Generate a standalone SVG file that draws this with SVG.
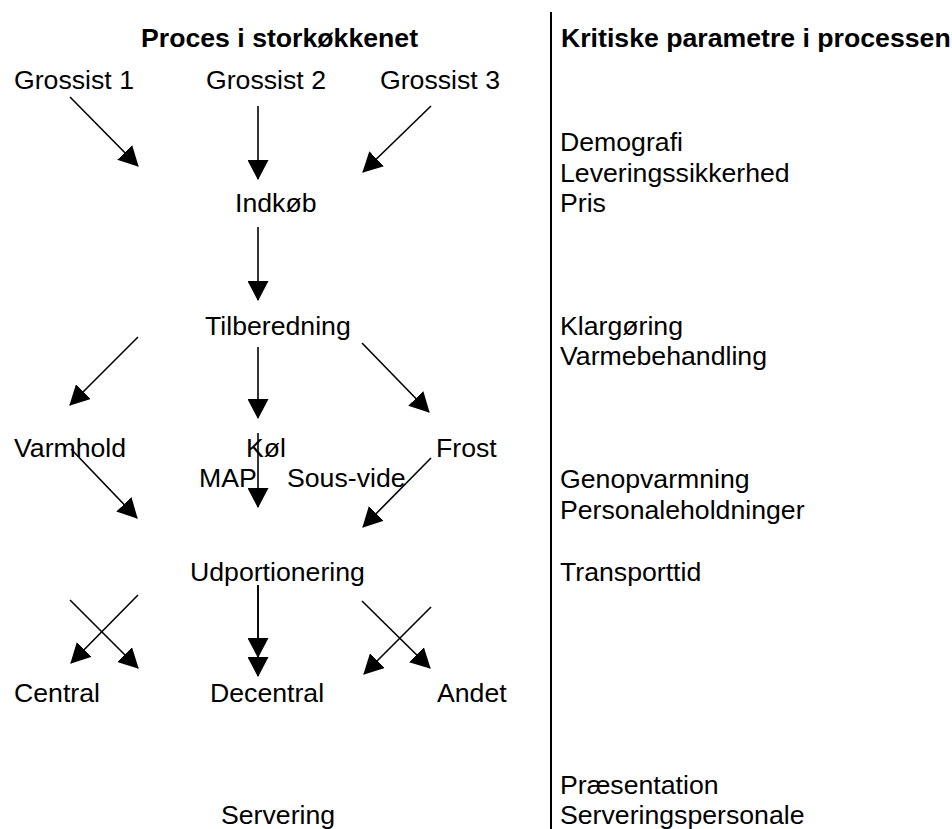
<svg xmlns="http://www.w3.org/2000/svg" width="952" height="829" viewBox="0 0 952 829">
<style>
text{font-family:"Liberation Sans",Arial,sans-serif;font-size:26.67px;fill:#000}
.h{font-weight:bold}
.c{stroke:#000;stroke-width:1.6;fill:none;marker-end:url(#ah)}
</style>
<defs>
<marker id="ah" viewBox="0 0 20 21" refX="19" refY="10.5" markerWidth="20" markerHeight="21" markerUnits="userSpaceOnUse" orient="auto">
<path d="M0,0 L20,10.5 L0,21 z" fill="#000"/>
</marker>
</defs>
<rect width="952" height="829" fill="#fff"/>
<line x1="551" y1="12" x2="551" y2="829" stroke="#000" stroke-width="2"/>
<g id="headings">
<text class="h" x="141" y="47">Proces i storkøkkenet</text>
<text class="h" x="561" y="47">Kritiske parametre i processen</text>
</g>
<g id="grossist1"><text x="14" y="89">Grossist 1</text></g>
<g id="grossist2"><text x="206" y="89">Grossist 2</text></g>
<g id="grossist3"><text x="380" y="89">Grossist 3</text></g>
<g id="indkob"><text x="235" y="212">Indkøb</text></g>
<g id="tilberedning"><text x="205" y="335">Tilberedning</text></g>
<g id="varmhold"><text x="14" y="457">Varmhold</text></g>
<g id="kol"><text x="246" y="457">Køl</text></g>
<g id="frost"><text x="436" y="457">Frost</text></g>
<g id="map"><text x="199" y="487">MAP</text></g>
<g id="sousvide"><text x="287" y="487">Sous-vide</text></g>
<g id="udportionering"><text x="190" y="581">Udportionering</text></g>
<g id="central"><text x="14" y="702">Central</text></g>
<g id="decentral"><text x="210" y="702">Decentral</text></g>
<g id="andet"><text x="437" y="702">Andet</text></g>
<g id="servering"><text x="221" y="824">Servering</text></g>
<g id="parametre">
<text x="560" y="151">Demografi</text>
<text x="560" y="181.5">Leveringssikkerhed</text>
<text x="560" y="212">Pris</text>
<text x="560" y="335">Klargøring</text>
<text x="560" y="365">Varmebehandling</text>
<text x="560" y="488">Genopvarmning</text>
<text x="560" y="519">Personaleholdninger</text>
<text x="560" y="581">Transporttid</text>
<text x="560" y="794">Præsentation</text>
<text x="560" y="824">Serveringspersonale</text>
</g>
<g id="connectors">
<line class="c" x1="70" y1="97" x2="138" y2="166"/>
<line class="c" x1="258" y1="106" x2="258" y2="179"/>
<line class="c" x1="431" y1="106" x2="363" y2="172"/>
<line class="c" x1="258" y1="227" x2="258" y2="300"/>
<line class="c" x1="138" y1="337" x2="70" y2="405"/>
<line class="c" x1="258" y1="347" x2="258" y2="418"/>
<line class="c" x1="362" y1="343" x2="429" y2="412"/>
<line class="c" x1="71" y1="449" x2="137" y2="518"/>
<line class="c" x1="258" y1="433" x2="258" y2="507"/>
<line class="c" x1="431" y1="458" x2="363" y2="527"/>
<line class="c" x1="138" y1="595" x2="71" y2="663"/>
<line class="c" x1="70" y1="600" x2="138" y2="668"/>
<line class="c" x1="258" y1="585" x2="258" y2="657"/>
<line class="c" x1="258" y1="585" x2="258" y2="676"/>
<line class="c" x1="362" y1="601" x2="430" y2="668"/>
<line class="c" x1="431" y1="607" x2="364" y2="674"/>
</g>
</svg>
